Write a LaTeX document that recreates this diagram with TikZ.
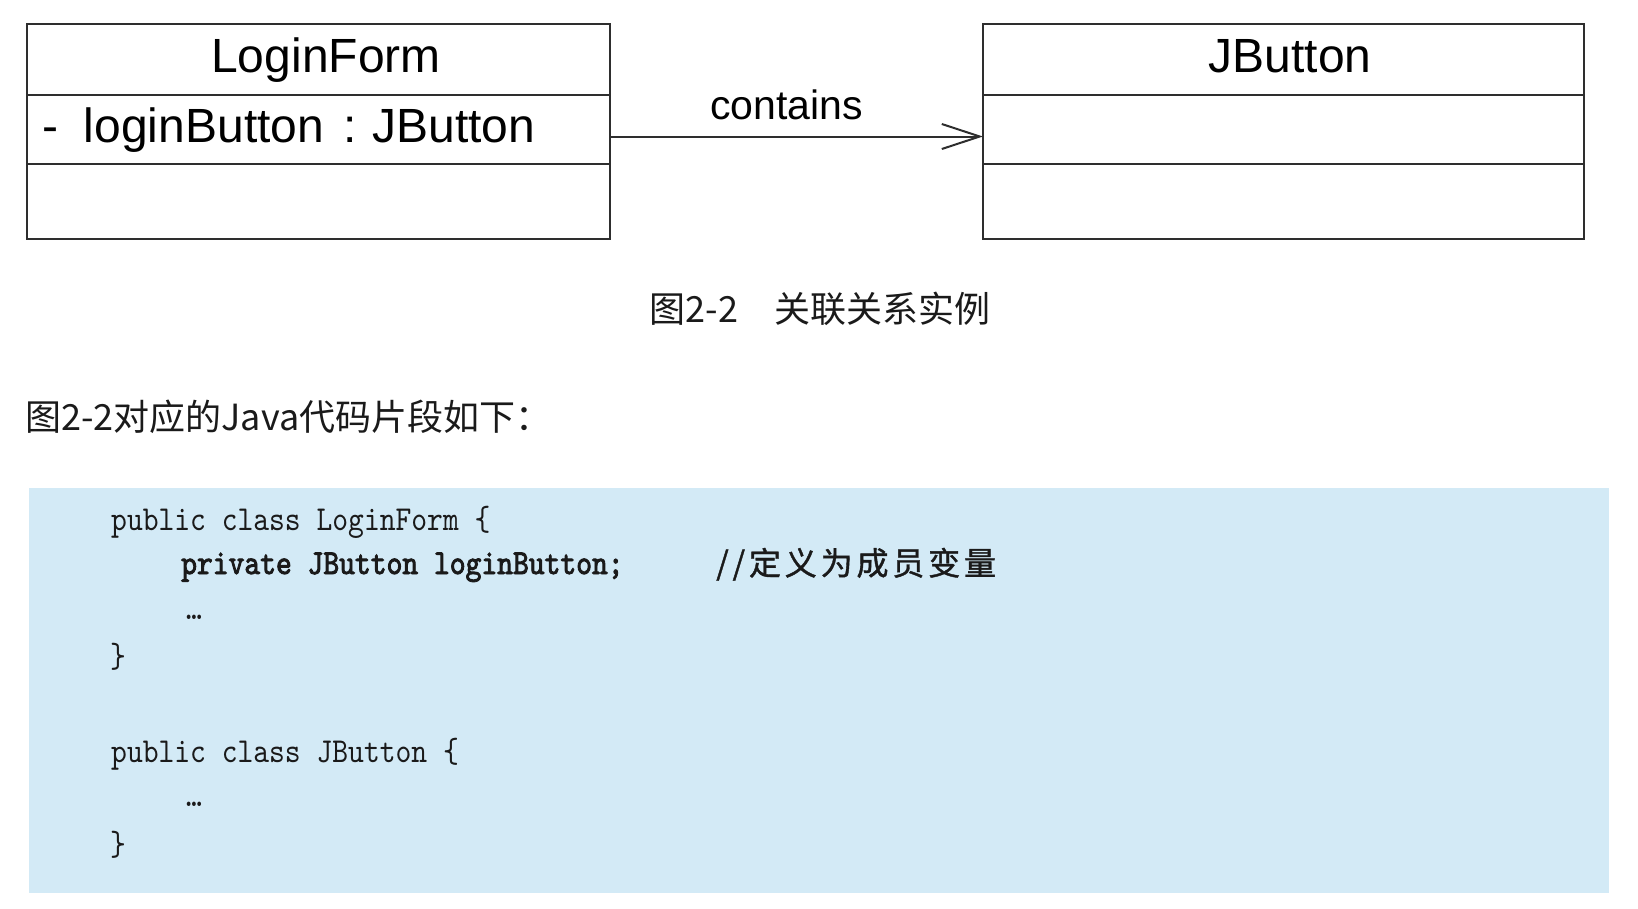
\documentclass[tikz,border=0pt]{standalone}
\usepackage{fontspec}
\usepackage{tikz}
\usetikzlibrary{arrows.meta,positioning}
\setmainfont{Liberation Sans}
\newfontfamily\cjk{Noto Sans CJK SC}
\newfontfamily\cjknote{Noto Sans CJK SC}[LetterSpace=12,FakeBold=1.2]
\newfontfamily\codefont{lmmono10-regular.otf}[FakeStretch=0.86]
\newfontfamily\codebold{lmmono10-regular.otf}[FakeStretch=0.86,FakeBold=2.5]
\definecolor{Frame}{HTML}{2E2E2E}
\definecolor{CodeBg}{HTML}{D3EAF6}
\definecolor{Ink}{HTML}{1A1A1A}

\begin{document}
\begin{tikzpicture}[
  x=1pt,y=-1pt,
  part/.style={draw=Frame,line width=2pt,minimum width=583pt,inner sep=0pt,outer sep=0pt,font=\fontsize{48}{56}\selectfont,text height=36pt,text depth=10pt},
  attr/.style={part,text width=553pt,inner xsep=15pt,align=left},
  link/.style={-{Straight Barb[length=38pt,width=25pt]},line width=2pt,draw=Frame},
  code/.style={anchor=base west,inner sep=0pt,text=Ink,font=\codefont\fontsize{35}{40}\selectfont},
  cjktext/.style={inner sep=0pt,text=Ink,font=\cjk\fontsize{36}{42}\selectfont}
]
\useasboundingbox (0,0) rectangle (1638,908);

% UML classes
\node[part,minimum height=71pt,anchor=north west] (lfname) at (27,24) {\hspace{15pt}LoginForm};
\node[attr,minimum height=69pt,below=0pt of lfname] (lfattr) {-\hspace{26pt}loginButton\hspace{19pt}:\hspace{16pt}JButton};
\node[part,minimum height=75pt,below=0pt of lfattr] (lfops) {};
\node[part,minimum width=601pt,minimum height=71pt,anchor=north west] (jbname) at (983,24) {\hspace{13pt}JButton};
\node[part,minimum width=601pt,minimum height=69pt,below=0pt of jbname] (jbattr) {};
\node[part,minimum width=601pt,minimum height=75pt,below=0pt of jbattr] (jbops) {};
\draw[link] ([yshift=-7pt]lfattr.east) -- node[above=16pt,xshift=-10pt,inner sep=0pt,font=\fontsize{41}{48}\selectfont] (rel) {contains} ([yshift=-7pt]jbattr.west);

% caption and intro
\node[cjktext,anchor=base] (caption) at (820,322) {图2-2　关联关系实例};
\node[cjktext,anchor=base west] (intro) at (25,430) {图2-2对应的Java代码片段如下：};

% code block
\fill[CodeBg] (29,488) rectangle (1609,893);
\node[code] (c1) at (111,530) {public class LoginForm \{};
\node[code,font=\codebold\fontsize{35}{40}\selectfont] (c2) at (181,574) {private JButton loginButton;};
\node[code,font=\cjknote\fontsize{32}{38}\selectfont] (c2note) at (716,575) {//定义为成员变量};
\node[code] (c3) at (186,619) {…};
\node[code] (c4) at (110,667) {\}};
\node[code] (c5) at (111,762) {public class JButton \{};
\node[code] (c6) at (186,806) {…};
\node[code] (c7) at (110,855) {\}};
\end{tikzpicture}
\end{document}
